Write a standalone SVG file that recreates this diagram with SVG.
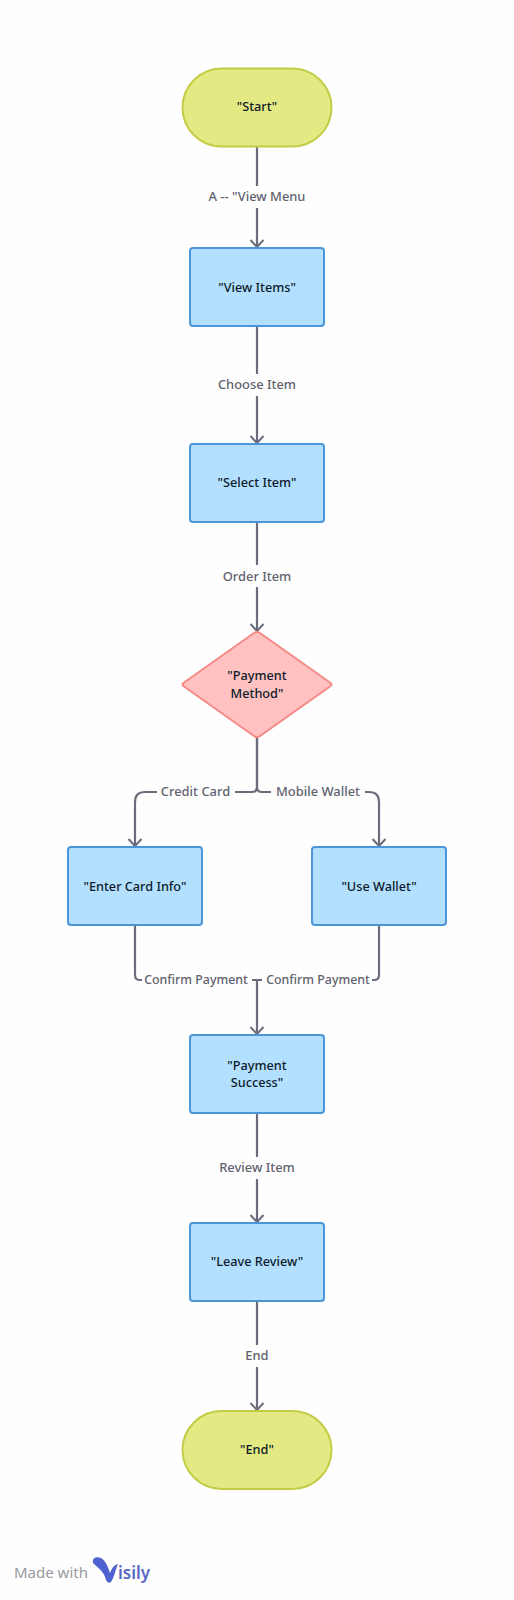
<svg xmlns="http://www.w3.org/2000/svg" width="514" height="1600" viewBox="0 0 514 1600">
<style>
text{font-family:"Noto Sans","Open Sans",sans-serif;text-anchor:middle}
.t{font-size:12.700px;font-weight:500;fill:#0d1a2b}
.l{font-size:12.900px;font-weight:500;fill:#62626f}
.n{font-size:12.400px}
.s{fill:#e3e983;stroke:#c3cc45;stroke-width:2}
.b{fill:#b3e0ff;stroke:#4a96d9;stroke-width:2}
.d{fill:#ffc2c0;stroke:#f58a85;stroke-width:2;stroke-linejoin:round}
.c{fill:none;stroke:#6c6c7c;stroke-width:2.200}
.h{fill:#fefefe}
</style>
<defs>
<marker id="a" markerWidth="18" markerHeight="14" refX="15" refY="7" orient="auto" markerUnits="userSpaceOnUse"><path d="M8 0.500L15 7L8 13.500" fill="none" stroke="#6c6c7c" stroke-width="2"/></marker>
</defs>
<rect width="514" height="1600" fill="#fefefe"/>
<g id="connectors">
<path class="c" d="M257 146V247" marker-end="url(#a)"/>
<path class="c" d="M257 326V443" marker-end="url(#a)"/>
<path class="c" d="M257 521V631" marker-end="url(#a)"/>
<path class="c" d="M257 738V787Q257 792 252 792H145Q135 792 135 802V846" marker-end="url(#a)"/>
<path class="c" d="M257 738V787Q257 792 262 792H369Q379 792 379 802V846" marker-end="url(#a)"/>
<path class="c" d="M135 925V975Q135 980 140 980H374Q379 980 379 975V925"/>
<path class="c" d="M257 980V1034" marker-end="url(#a)"/>
<path class="c" d="M257 1113V1222" marker-end="url(#a)"/>
<path class="c" d="M257 1301V1410" marker-end="url(#a)"/>
</g>
<g id="edge-labels">
<rect class="h" x="204" y="186" width="106" height="22"/><text class="l" x="257" y="201">A -- "View Menu</text>
<rect class="h" x="216" y="374" width="82" height="22"/><text class="l" x="257" y="389">Choose Item</text>
<rect class="h" x="222" y="565" width="70" height="22"/><text class="l" x="257" y="581">Order Item</text>
<rect class="h" x="157" y="781" width="78" height="22"/><text class="l" x="195.500" y="796">Credit Card</text>
<rect class="h" x="271" y="781" width="94" height="22"/><text class="l" x="318" y="796">Mobile Wallet</text>
<rect class="h" x="142" y="969" width="110" height="22"/><text class="l n" x="196" y="984">Confirm Payment</text>
<rect class="h" x="262" y="969" width="110" height="22"/><text class="l n" x="318" y="984">Confirm Payment</text>
<rect class="h" x="217" y="1157" width="80" height="22"/><text class="l" x="257" y="1172">Review Item</text>
<rect class="h" x="241" y="1345" width="32" height="22"/><text class="l" x="257" y="1360">End</text>
</g>
<g id="start"><rect class="s" x="182.500" y="68.500" width="149" height="78" rx="39"/><text class="t" x="257" y="111">"Start"</text></g>
<g id="view-items"><rect class="b" x="190" y="248" width="134" height="78" rx="3"/><text class="t" x="257" y="292">"View Items"</text></g>
<g id="select-item"><rect class="b" x="190" y="444" width="134" height="78" rx="3"/><text class="t" x="257" y="487">"Select Item"</text></g>
<g id="payment-method"><path class="d" d="M254 633Q257 631 260 633L330 682.500Q333 684.500 330 686.500L260 736Q257 738 254 736L184 686.500Q181 684.500 184 682.500Z"/><text class="t" x="257" y="680">"Payment</text><text class="t" x="257" y="697.500">Method"</text></g>
<g id="enter-card"><rect class="b" x="68" y="847" width="134" height="78" rx="3"/><text class="t" x="135" y="890.500">"Enter Card Info"</text></g>
<g id="use-wallet"><rect class="b" x="312" y="847" width="134" height="78" rx="3"/><text class="t" x="379" y="890.500">"Use Wallet"</text></g>
<g id="payment-success"><rect class="b" x="190" y="1035" width="134" height="78" rx="3"/><text class="t" x="257" y="1069.500">"Payment</text><text class="t" x="257" y="1087">Success"</text></g>
<g id="leave-review"><rect class="b" x="190" y="1223" width="134" height="78" rx="3"/><text class="t" x="257" y="1266">"Leave Review"</text></g>
<g id="end"><rect class="s" x="182.500" y="1411" width="149" height="78" rx="39"/><text class="t" x="257" y="1454">"End"</text></g>
<g id="branding">
<text x="14" y="1577.500" style="text-anchor:start;font-size:15px;fill:#9a9aa2">Made with</text>
<path d="M93 1563C92 1558 96 1556 101 1558C106 1561 108 1567 110 1573C112 1568 114 1565 118 1564C115 1571 114 1578 111 1582C108 1584 106 1581 105 1577C103 1571 97 1567 93 1563Z" fill="#4f62cf"/>
<text x="118" y="1579" style="text-anchor:start;font-size:17px;font-weight:600;fill:#5a6ac4">isily</text>
</g>
</svg>
